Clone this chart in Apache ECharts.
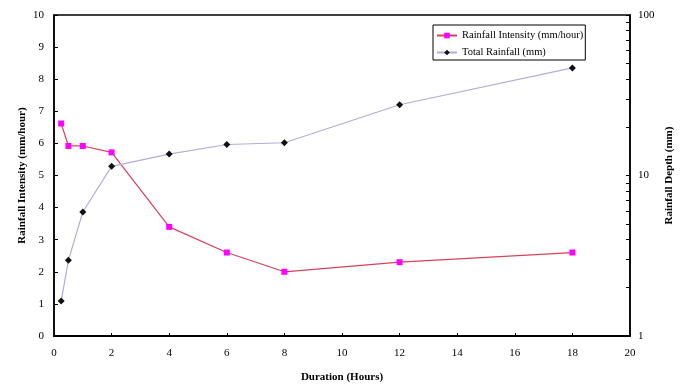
<!DOCTYPE html>
<html><head><meta charset="utf-8">
<script src="https://cdn.jsdelivr.net/npm/echarts@6/dist/echarts.min.js"></script>
<style>html,body{margin:0;padding:0;background:#fff}#c{width:685px;height:388px}</style>
</head><body><div id="c"></div>
<script>
const durations = [0.25, 0.5, 1, 2, 4, 6, 8, 12, 18];
const intensity = [6.62, 5.92, 5.92, 5.72, 3.4, 2.6, 2.0, 2.3, 2.6];
const totalRainfall = [1.65, 2.96, 5.92, 11.4, 13.6, 15.6, 16.0, 27.6, 46.8];
const logTicks = [1,2,3,4,5,6,7,8,9,10,20,30,40,50,60,70,80,90,100];
const font = 'Liberation Serif';
const chart = echarts.init(document.getElementById('c'));
chart.setOption({
  animation: false,
  textStyle: {fontFamily: font},
  grid: {left: 54, right: 55, top: 15, bottom: 51, show: true, borderColor: '#000', borderWidth: 1.5},
  legend: {
    orient: 'vertical', left: 433, top: 25, itemGap: 4, itemWidth: 20, itemHeight: 7,
    borderColor: '#000', borderWidth: 1, padding: [4, 2, 1, 3],
    textStyle: {fontFamily: font, fontSize: 10.5, color: '#000', lineHeight: 13},
    data: ['Rainfall Intensity (mm/hour)', 'Total Rainfall (mm)']
  },
  xAxis: {
    type: 'value', min: 0, max: 20, interval: 2,
    name: 'Duration (Hours)', nameLocation: 'middle', nameGap: 36, nameMoveOverlap: false,
    nameTextStyle: {fontFamily: font, fontWeight: 'bold', fontSize: 11, color: '#000'},
    axisLine: {lineStyle: {color: '#000', width: 2}},
    axisTick: {inside: true, length: 3, lineStyle: {color: '#000'}},
    axisLabel: {fontFamily: font, fontSize: 11, color: '#000', margin: 12},
    splitLine: {show: false}
  },
  yAxis: [{
    type: 'value', min: 0, max: 10, interval: 1, position: 'left',
    name: 'Rainfall Intensity (mm/hour)', nameLocation: 'middle', nameGap: 26, nameRotate: 90, nameMoveOverlap: false,
    nameTextStyle: {fontFamily: font, fontWeight: 'bold', fontSize: 11, color: '#000'},
    axisLine: {show: true, lineStyle: {color: '#000', width: 1.5}},
    axisTick: {show: true, inside: true, length: 4, lineStyle: {color: '#000'}},
    axisLabel: {fontFamily: font, fontSize: 11, color: '#000', margin: 10},
    splitLine: {show: false}
  }, {
    type: 'log', logBase: 10, min: 1, max: 100, position: 'right',
    name: 'Rainfall Depth (mm)', nameLocation: 'middle', nameGap: 34, nameRotate: 90, nameMoveOverlap: false,
    nameTextStyle: {fontFamily: font, fontWeight: 'bold', fontSize: 11, color: '#000'},
    axisLine: {show: true, lineStyle: {color: '#000', width: 1.5}},
    axisTick: {show: true, inside: true, length: 4, lineStyle: {color: '#000'}, customValues: logTicks},
    axisLabel: {fontFamily: font, fontSize: 11, color: '#000', margin: 8},
    splitLine: {show: false}
  }],
  series: [{
    name: 'Rainfall Intensity (mm/hour)', type: 'line', yAxisIndex: 0,
    data: durations.map((d, i) => [d, intensity[i]]),
    symbol: 'rect', symbolSize: 6,
    itemStyle: {color: '#ff00ff'},
    lineStyle: {color: '#d8405a', width: 1.2}
  }, {
    name: 'Total Rainfall (mm)', type: 'line', yAxisIndex: 1,
    data: durations.map((d, i) => [d, totalRainfall[i]]),
    symbol: 'diamond', symbolSize: 7,
    itemStyle: {color: '#111'},
    lineStyle: {color: '#b4acd8', width: 1.2}
  }]
});
</script></body></html>
